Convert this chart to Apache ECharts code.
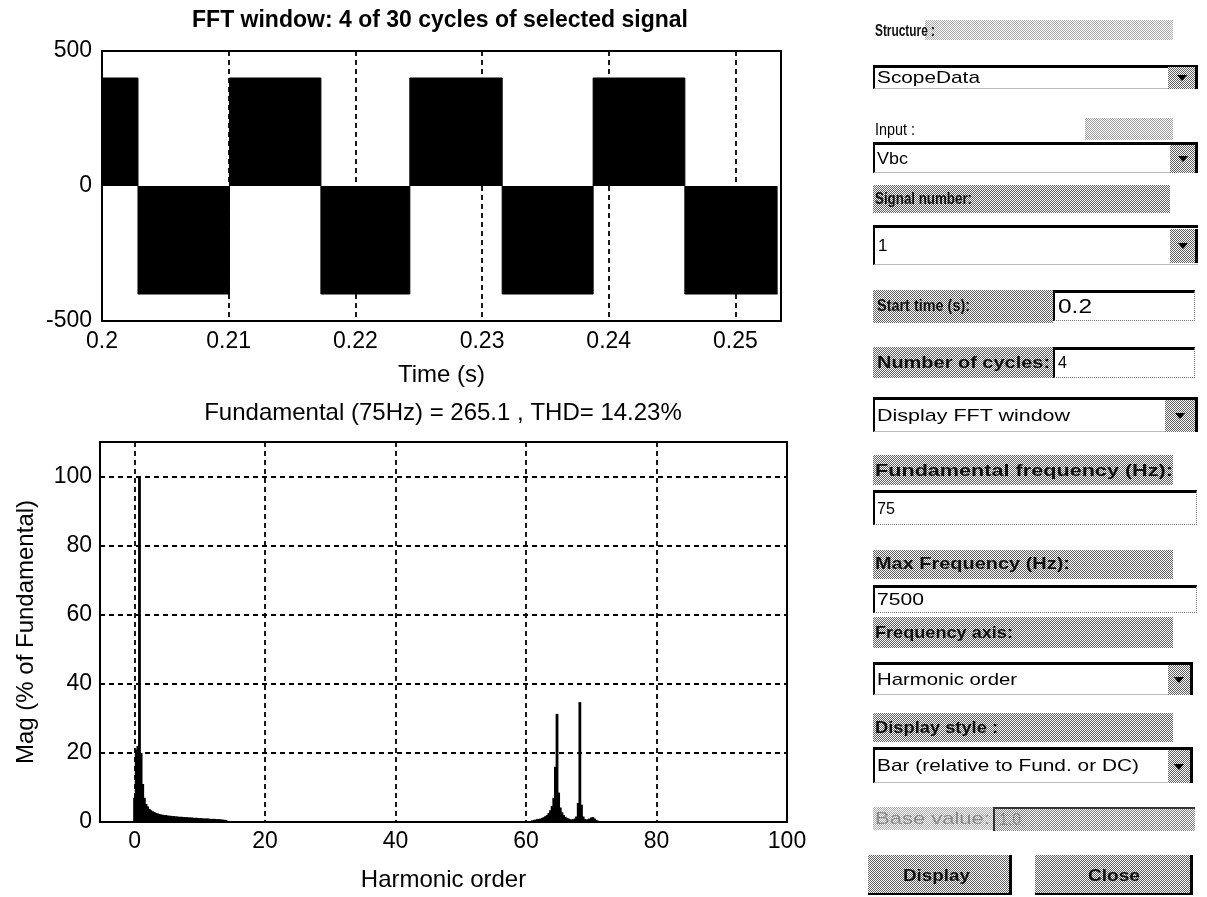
<!DOCTYPE html>
<html>
<head>
<meta charset="utf-8">
<title>FFT Analysis</title>
<script src="https://cdn.jsdelivr.net/npm/echarts@6/dist/echarts.min.js"></script>
<style>
  html, body { margin: 0; padding: 0; background: #fff; }
  #chart { position: absolute; left: 0; top: 0; width: 1207px; height: 897px; }
  #panel { position: absolute; left: 0; top: 0; width: 1207px; height: 897px; }
  .stip { position: absolute; box-sizing: border-box;
          background-image: repeating-conic-gradient(#5e5e5e 0 25%, #ffffff 0 50%);
          background-size: 2px 2px; }
  .box { position: absolute; box-sizing: border-box; background: #fff;
         border-top: 3px solid #000; border-left: 2px solid #000;
         border-bottom: 1px solid #bbb; }
  .edit { position: absolute; box-sizing: border-box; background: #fff;
          border-top: 3px solid #000; border-left: 2px solid #000;
          border-right: 1px dotted #777; border-bottom: 1px dotted #777; }
  .arrow { position: absolute; box-sizing: border-box; border-right: 3px solid #000;
           background-image: repeating-conic-gradient(#5e5e5e 0 25%, #ffffff 0 50%);
           background-size: 2px 2px; }
  .arrow::after { content: ""; position: absolute; left: 50%; top: 50%;
                  margin-left: -5px; margin-top: -3px; width: 0; height: 0;
                  border-left: 5px solid transparent; border-right: 5px solid transparent;
                  border-top: 6px solid #000; }
  .btn { position: absolute; box-sizing: border-box;
         border-right: 3px solid #000; border-bottom: 2px solid #000;
         background-image: repeating-conic-gradient(#5e5e5e 0 25%, #ffffff 0 50%);
         background-size: 2px 2px; }
  .t { position: absolute; white-space: nowrap; transform-origin: 0 50%;
       font-family: "Liberation Sans", Arial, sans-serif; color: #000; line-height: 1; }
  .lbl { font-weight: bold; font-size: 17px; color: #111; }
  .val { font-size: 17px; }
  .dim { color: #8a8a8a; }
</style>
</head>
<body>
<div id="chart"></div>

<div id="panel">
  <!-- Structure -->
  <div class="stip" style="left:925px;top:20px;width:248px;height:20px;opacity:0.55"></div>
  <span class="t lbl" data-w="60" style="left:875px;top:22px">Structure :</span>
  <div class="box" style="left:873px;top:65px;width:325px;height:24px"></div>
  <div class="arrow" style="left:1168px;top:67px;width:30px;height:22px"></div>
  <span class="t val" data-w="103" style="left:877px;top:69px">ScopeData</span>

  <!-- Input -->
  <div class="stip" style="left:1085px;top:118px;width:88px;height:22px;opacity:0.6"></div>
  <span class="t val" data-w="40" style="left:875px;top:121px">Input :</span>
  <div class="box" style="left:873px;top:142px;width:325px;height:31px"></div>
  <div class="arrow" style="left:1170px;top:145px;width:28px;height:28px"></div>
  <span class="t val" data-w="31" style="left:877px;top:150px">Vbc</span>

  <!-- Signal number -->
  <div class="stip" style="left:873px;top:185px;width:297px;height:28px"></div>
  <span class="t lbl" data-w="97" style="left:875px;top:190px">Signal number:</span>
  <div class="box" style="left:873px;top:225px;width:325px;height:40px"></div>
  <div class="arrow" style="left:1170px;top:229px;width:28px;height:34px"></div>
  <span class="t val" style="left:878px;top:237px">1</span>

  <!-- Start time -->
  <div class="stip" style="left:873px;top:290px;width:180px;height:33px"></div>
  <span class="t lbl" data-w="93" style="left:877px;top:297px">Start time (s):</span>
  <div class="edit" style="left:1053px;top:290px;width:142px;height:31px"></div>
  <span class="t val" data-w="34" style="left:1058px;top:296px;font-size:20px">0.2</span>

  <!-- Number of cycles -->
  <div class="stip" style="left:873px;top:347px;width:180px;height:31px"></div>
  <span class="t lbl" data-w="173" style="left:877px;top:354px">Number of cycles:</span>
  <div class="edit" style="left:1053px;top:347px;width:142px;height:31px"></div>
  <span class="t val" data-w="9" style="left:1058px;top:354px">4</span>

  <!-- FFT window display -->
  <div class="box" style="left:873px;top:397px;width:325px;height:35px"></div>
  <div class="arrow" style="left:1165px;top:400px;width:33px;height:32px"></div>
  <span class="t val" data-w="193" style="left:877px;top:407px">Display FFT window</span>

  <!-- Fundamental frequency -->
  <div class="stip" style="left:873px;top:455px;width:300px;height:30px"></div>
  <span class="t lbl" data-w="298" style="left:875px;top:462px">Fundamental frequency (Hz):</span>
  <div class="edit" style="left:873px;top:490px;width:324px;height:35px"></div>
  <span class="t val" data-w="18" style="left:877px;top:500px">75</span>

  <!-- Max frequency -->
  <div class="stip" style="left:873px;top:550px;width:300px;height:29px"></div>
  <span class="t lbl" data-w="195" style="left:875px;top:555px">Max Frequency (Hz):</span>
  <div class="edit" style="left:873px;top:585px;width:324px;height:28px"></div>
  <span class="t val" data-w="47" style="left:877px;top:591px">7500</span>

  <!-- Frequency axis -->
  <div class="stip" style="left:873px;top:617px;width:300px;height:31px"></div>
  <span class="t lbl" data-w="138" style="left:875px;top:624px">Frequency axis:</span>
  <div class="box" style="left:873px;top:662px;width:320px;height:33px"></div>
  <div class="arrow" style="left:1168px;top:665px;width:25px;height:30px"></div>
  <span class="t val" data-w="140" style="left:877px;top:671px">Harmonic order</span>

  <!-- Display style -->
  <div class="stip" style="left:873px;top:713px;width:300px;height:29px"></div>
  <span class="t lbl" data-w="123" style="left:875px;top:719px">Display style :</span>
  <div class="box" style="left:873px;top:747px;width:320px;height:36px"></div>
  <div class="arrow" style="left:1168px;top:750px;width:25px;height:33px"></div>
  <span class="t val" data-w="262" style="left:877px;top:757px">Bar (relative to Fund. or DC)</span>

  <!-- Base value (disabled) -->
  <div class="stip" style="left:873px;top:807px;width:120px;height:23px;opacity:0.55"></div>
  <span class="t val dim" data-w="115" style="left:875px;top:810px">Base value:</span>
  <div class="stip" style="left:993px;top:807px;width:202px;height:24px;border-top:2px solid #000;border-left:2px solid #000;opacity:0.8"></div>
  <span class="t val dim" data-w="22" style="left:999px;top:811px">1.0</span>

  <!-- Buttons -->
  <div class="btn" style="left:868px;top:855px;width:144px;height:40px"></div>
  <span class="t lbl" data-w="67" style="left:903px;top:867px">Display</span>
  <div class="btn" style="left:1035px;top:855px;width:158px;height:40px"></div>
  <span class="t lbl" data-w="52" style="left:1088px;top:867px">Close</span>
</div>

<script>
// ---- Selected signal (Vbc) over the FFT window: switching instants and levels ----
const waveTimes  = [0.2, 0.20284, 0.21006, 0.21728, 0.22430, 0.23159, 0.23877, 0.24601, 0.253333];
const waveLevels = [400, -400, 400, -400, 400, -400, 400, -400, -400];
const timeTicks  = [0.2, 0.21, 0.22, 0.23, 0.24, 0.25];
const voltTicks  = [-500, 0, 500];

// ---- Harmonic spectrum (magnitude in % of fundamental) ----
const harmonicOrders = [
  0, 0.25, 0.5, 0.75, 1, 1.25, 1.5, 1.75, 2, 2.25, 2.5, 2.75, 3, 3.25, 3.5, 3.75,
  4, 4.25, 4.5, 4.75, 5, 5.25, 5.5, 5.75, 6, 6.25, 6.5, 6.75, 7, 7.25, 7.5, 7.75,
  8, 8.25, 8.5, 8.75, 9, 9.25, 9.5, 9.75, 10, 10.25, 10.5, 10.75, 11, 11.25, 11.5, 11.75,
  12, 12.25, 12.5, 12.75, 13, 13.25, 13.5, 13.75, 14,
  61, 61.25, 61.5, 61.75, 62, 62.25, 62.5, 62.75, 63, 63.25, 63.5, 63.75,
  64, 64.25, 64.5, 64.75, 65, 65.25, 65.5, 65.75, 66, 66.25, 66.5, 66.75,
  67, 67.25, 67.5, 67.75, 68, 68.25, 68.5, 68.75, 69, 69.25, 69.5, 69.75,
  70, 70.25, 70.5, 70.75, 71
];
const magnitudes = [
  7, 21, 22, 100, 20, 11, 7, 5.2, 4.5, 3.8, 3.4, 3.1, 2.9, 2.6, 2.5, 2.3,
  2.2, 2.1, 2.0, 2.0, 1.9, 1.8, 1.8, 1.7, 1.7, 1.6, 1.6, 1.5, 1.5, 1.5, 1.4, 1.4,
  1.4, 1.3, 1.3, 1.3, 1.2, 1.2, 1.2, 1.1, 1.1, 1.1, 1.0, 1.0, 1.0, 1.0, 0.9, 0.9,
  0.9, 0.9, 0.8, 0.8, 0.8, 0.7, 0.7, 0.6, 0.6,
  0.5, 0.6, 0.7, 0.8, 0.9, 1.0, 1.2, 1.4, 1.7, 2.0, 2.6, 3.4,
  4.6, 7.0, 16, 31.3, 8.5, 4.2, 2.8, 2.0, 1.5, 1.2, 1.0, 0.8,
  0.7, 0.8, 1.0, 1.6, 5.5, 34.7, 5.0, 1.6, 0.9, 0.7, 0.8, 1.0,
  1.3, 1.4, 1.0, 0.6, 0.4
];
const harmonicTicks = [0, 20, 40, 60, 80, 100];
const magTicks      = [0, 20, 40, 60, 80, 100];

const FONT = '"Liberation Sans", Arial, sans-serif';
const dashed = { color: '#000', type: [5, 4], width: 1.8 };
const tickLabel = { color: '#000', fontFamily: FONT, fontSize: 23 };
const axisName = { color: '#000', fontFamily: FONT, fontSize: 24 };
const axisLine = { show: true, onZero: false, lineStyle: { color: '#000', width: 2 } };

const chart = echarts.init(document.getElementById('chart'), null, { renderer: 'canvas' });

chart.setOption({
  animation: false,
  backgroundColor: '#fff',
  graphic: [
    { type: 'text', x: 440, y: 21,
      style: { text: 'FFT window: 4 of 30 cycles of selected signal',
               font: 'bold 23px ' + FONT, fill: '#000',
               align: 'center', verticalAlign: 'middle', textAlign: 'center', textVerticalAlign: 'middle' } },
    { type: 'text', x: 443, y: 413,
      style: { text: 'Fundamental (75Hz) = 265.1 , THD= 14.23%',
               font: '24px ' + FONT, fill: '#000',
               align: 'center', verticalAlign: 'middle', textAlign: 'center', textVerticalAlign: 'middle' } }
  ],
  grid: [
    { left: 102, top: 51, width: 679, height: 270, show: true, borderColor: '#000', borderWidth: 2, containLabel: false },
    { left: 100, top: 442, width: 687, height: 380, show: true, borderColor: '#000', borderWidth: 2, containLabel: false }
  ],
  xAxis: [
    { gridIndex: 0, type: 'value', min: 0.2, max: 0.2536,
      axisLine: axisLine,
      axisTick: { show: false, customValues: timeTicks },
      axisLabel: Object.assign({ customValues: timeTicks, margin: 9,
                                 formatter: v => String(+v.toFixed(2)) }, tickLabel),
      splitLine: { show: true, lineStyle: dashed },
      name: 'Time (s)', nameLocation: 'middle', nameGap: 42, nameTextStyle: axisName },
    { gridIndex: 1, type: 'value', min: -5.3, max: 100,
      axisLine: axisLine,
      axisTick: { show: false, customValues: harmonicTicks },
      axisLabel: Object.assign({ customValues: harmonicTicks, margin: 8 }, tickLabel),
      splitLine: { show: true, lineStyle: dashed },
      name: 'Harmonic order', nameLocation: 'middle', nameGap: 46, nameTextStyle: axisName }
  ],
  yAxis: [
    { gridIndex: 0, type: 'value', min: -500, max: 500,
      axisLine: axisLine,
      axisTick: { show: false, customValues: voltTicks },
      axisLabel: Object.assign({ customValues: voltTicks, margin: 10 }, tickLabel),
      splitLine: { show: false } },
    { gridIndex: 1, type: 'value', min: 0, max: 110,
      axisLine: axisLine,
      axisTick: { show: false, customValues: magTicks },
      axisLabel: Object.assign({ customValues: magTicks, margin: 8 }, tickLabel),
      splitLine: { show: true, lineStyle: dashed },
      name: 'Mag (% of Fundamental)', nameLocation: 'middle', nameGap: 62, nameTextStyle: axisName }
  ],
  series: [
    { type: 'line', xAxisIndex: 0, yAxisIndex: 0, step: 'end', symbol: 'none',
      data: waveTimes.map((t, i) => [t, waveLevels[i]]),
      lineStyle: { color: '#000', width: 1 },
      areaStyle: { color: '#000', opacity: 1 } },
    { type: 'bar', xAxisIndex: 1, yAxisIndex: 1, barWidth: 2.8,
      data: harmonicOrders.map((h, i) => [h, magnitudes[i]]),
      itemStyle: { color: '#000' } }
  ]
});

// Stretch each control caption to its box width
document.querySelectorAll('#panel .t').forEach(el => {
  const w = parseFloat(el.dataset.w);
  const nat = el.getBoundingClientRect().width;
  if (w && nat) el.style.transform = 'scaleX(' + (w / nat).toFixed(3) + ')';
});
</script>
</body>
</html>
